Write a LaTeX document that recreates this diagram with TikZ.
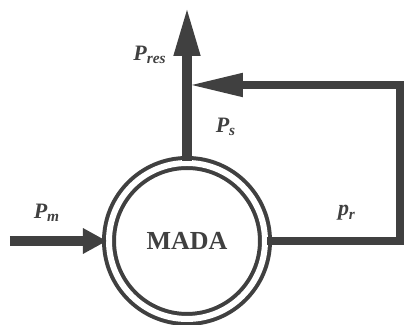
\documentclass[tikz,border=0pt]{standalone}
\usepackage{fontspec}
\setmainfont{Liberation Serif}
\usetikzlibrary{arrows.meta,positioning}
\definecolor{inkgray}{HTML}{404040}
\tikzstyle{flow} = [draw=inkgray, line width=5pt]
\tikzstyle{lbl} = [text=inkgray, font=\fontsize{11}{13}\selectfont\bfseries\itshape, inner sep=0pt]

\begin{document}
\begin{tikzpicture}[x=0.5pt, y=-0.5pt]
    \useasboundingbox (0,0) rectangle (404,325);
    \node [circle, draw=inkgray, line width=2pt, double=white, double distance=3pt, minimum size=78pt, inner sep=0pt,
           text=inkgray, font=\fontsize{13}{15}\selectfont\bfseries] (mada) at (187,241) {MADA};

    \coordinate (pin) at (10,241);
    \coordinate (pout) at (187,6);
    \coordinate (corner) at (400,85);
    \coordinate (join) at (189,85);

    \path [flow, -{Triangle[length=12pt, width=12pt]}] (pin) -- (mada.west);
    \path [flow, -{Triangle[length=25pt, width=12pt]}] (mada.north) -- (pout);
    \path [flow, line width=4pt, line join=miter, -{Triangle[length=27pt, width=11pt]}] (mada.east) -| (corner) -- (join);

    \node [lbl] (pres) at (150,55) {P\textsubscript{res}};
    \node [lbl] (ps) at (226,127) {P\textsubscript{s}};
    \node [lbl] (pm) at (47,213) {P\textsubscript{m}};
    \node [lbl] (pr) at (347,213) {p\textsubscript{r}};
\end{tikzpicture}
\end{document}
